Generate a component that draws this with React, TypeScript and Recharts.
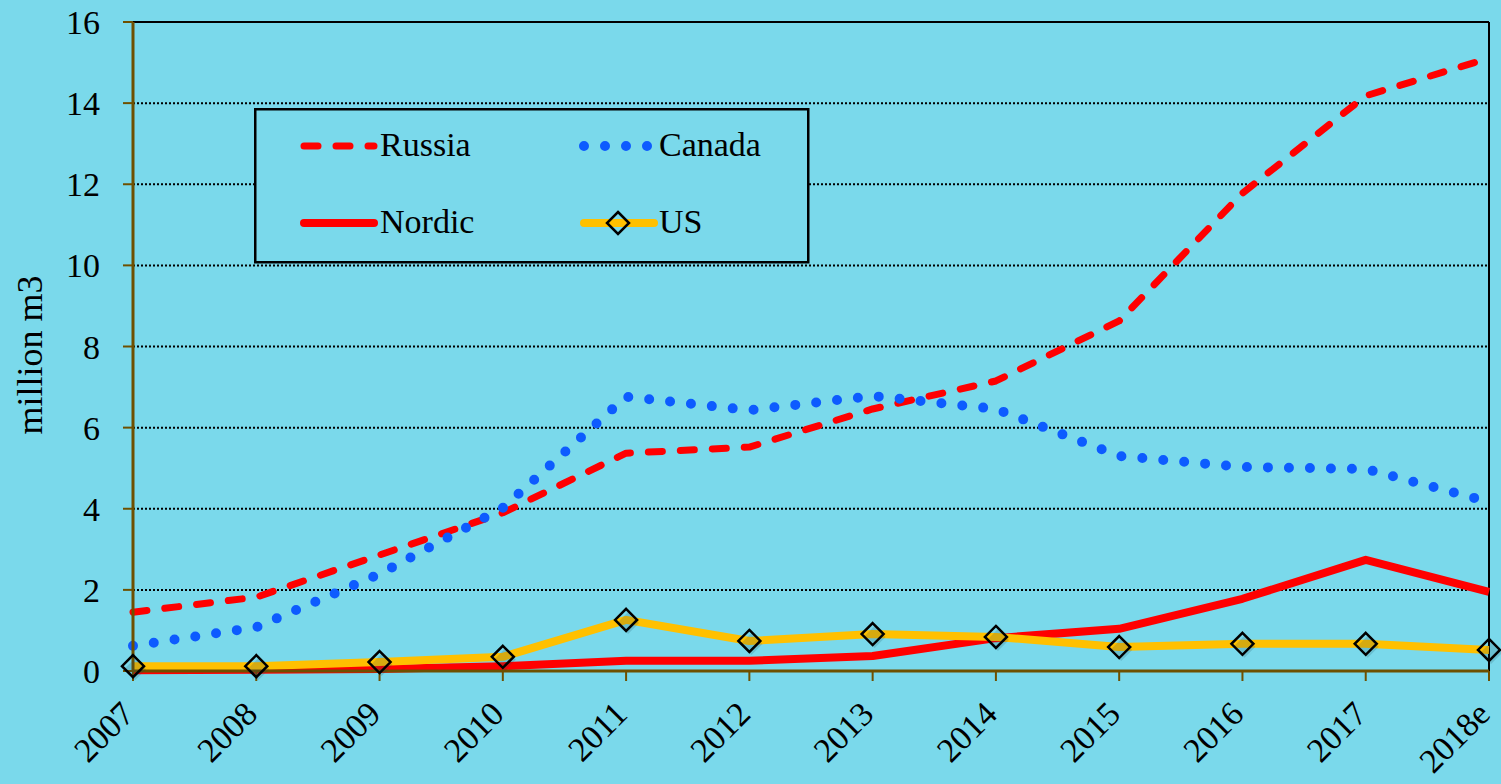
import React from 'react';
import { LineChart, Line, XAxis, YAxis, CartesianGrid, ReferenceLine, Label } from 'recharts';

const years = ['2007', '2008', '2009', '2010', '2011', '2012', '2013', '2014', '2015', '2016', '2017', '2018e'];
const russia = [1.45, 1.82, 2.86, 3.9, 5.37, 5.52, 6.46, 7.15, 8.63, 11.78, 14.18, 15.11];
const canada = [0.62, 1.08, 2.39, 4.02, 6.76, 6.43, 6.78, 6.46, 5.3, 5.03, 4.98, 4.17];
const nordic = [0.02, 0.03, 0.05, 0.12, 0.25, 0.25, 0.37, 0.81, 1.04, 1.78, 2.74, 1.95];
const us = [0.12, 0.12, 0.22, 0.35, 1.26, 0.74, 0.91, 0.84, 0.59, 0.67, 0.67, 0.52];
const yTicks = [0, 2, 4, 6, 8, 10, 12, 14, 16];

const data = years.map((year, i) => ({
  year,
  russia: russia[i],
  canada: canada[i],
  nordic: nordic[i],
  us: us[i],
}));

const FONT = 'Liberation Serif, Times New Roman, serif';
const BG = '#7AD9EB';
const AXIS = '#6E5000';
const RED = '#FF0000';
const BLUE = '#0D5BFF';
const YELLOW = '#FFC000';

const XTick = ({ x, y, payload }: any) => {
  const tx = x + 3;
  const ty = y + 35;
  return (
    <text x={tx} y={ty} transform={`rotate(-45 ${tx} ${ty})`} textAnchor="end" fontSize={34} fontFamily={FONT} fill="#000">
      {payload.value}
    </text>
  );
};

const Diamond = ({ cx, cy, s = 11 }: any) => (
  <g>
    <polygon
      points={`${cx + 2},${cy + 3 - s} ${cx + 2 + s},${cy + 3} ${cx + 2},${cy + 3 + s} ${cx + 2 - s},${cy + 3}`}
      fill="#1a4a5a"
      opacity={0.18}
    />
    <polygon
      points={`${cx},${cy - s} ${cx + s},${cy} ${cx},${cy + s} ${cx - s},${cy}`}
      fill="none"
      stroke="#000"
      strokeWidth={2.5}
    />
  </g>
);

// legend box drawn as an overlay, like the one in the source chart
const LegendBox = () => (
  <svg width={556} height={156} style={{ position: 'absolute', left: 254, top: 108 }}>
    <rect x={1.25} y={1.25} width={553} height={153} fill={BG} stroke="#000" strokeWidth={2.5} />
    <line x1={50} y1={38} x2={120} y2={38} stroke={RED} strokeWidth={7} strokeDasharray="14 18" strokeLinecap="round" />
    <text x={126} y={48} fontSize={34} fontFamily={FONT}>Russia</text>
    <line x1={330} y1={38} x2={400} y2={38} stroke={BLUE} strokeWidth={10} strokeDasharray="0 21" strokeLinecap="round" />
    <text x={405} y={48} fontSize={34} fontFamily={FONT}>Canada</text>
    <line x1={50} y1={115} x2={120} y2={115} stroke={RED} strokeWidth={8} strokeLinecap="round" />
    <text x={126} y={125} fontSize={34} fontFamily={FONT}>Nordic</text>
    <line x1={330} y1={115} x2={400} y2={115} stroke={YELLOW} strokeWidth={8} strokeLinecap="round" />
    <polygon points="364,104 375,115 364,126 353,115" fill="none" stroke="#000" strokeWidth={2.5} />
    <text x={405} y={125} fontSize={34} fontFamily={FONT}>US</text>
  </svg>
);

export default function App() {
  return (
    <div style={{ position: 'fixed', left: 0, top: 0, width: 1501, height: 784, background: BG }}>
      <LineChart width={1501} height={784} data={data} margin={{ top: 22, right: 12, left: 0, bottom: 0 }}>
        <CartesianGrid vertical={false} stroke="#000" strokeWidth={2} strokeDasharray="2 2" />
        <XAxis
          dataKey="year"
          height={113}
          interval={0}
          tick={<XTick />}
          tickSize={10}
          tickMargin={0}
          axisLine={{ stroke: AXIS, strokeWidth: 3 }}
          tickLine={{ stroke: AXIS, strokeWidth: 2 }}
        />
        <YAxis
          width={133}
          domain={[0, 16]}
          ticks={yTicks}
          interval={0}
          tickSize={10}
          tickMargin={23}
          tick={{ fontSize: 34, fontFamily: FONT, fill: '#000' }}
          axisLine={{ stroke: AXIS, strokeWidth: 3 }}
          tickLine={{ stroke: AXIS, strokeWidth: 2 }}
        >
          <Label
            content={() => (
              <text transform="translate(42,355) rotate(-90)" textAnchor="middle" fontSize={36} fontFamily={FONT} fill="#000">
                million m3
              </text>
            )}
          />
        </YAxis>
        <ReferenceLine y={16} stroke="#000" strokeWidth={2} />
        <ReferenceLine x="2018e" stroke="#000" strokeWidth={2} />
        <Line type="linear" dataKey="russia" stroke={RED} strokeWidth={7} strokeDasharray="14 18" strokeLinecap="round" strokeLinejoin="round" dot={false} isAnimationActive={false} />
        <Line type="linear" dataKey="canada" stroke={BLUE} strokeWidth={10} strokeDasharray="0 21" strokeLinecap="round" dot={false} isAnimationActive={false} />
        <Line type="linear" dataKey="nordic" stroke={RED} strokeWidth={8} strokeLinejoin="round" dot={false} isAnimationActive={false} />
        <Line type="linear" dataKey="us" stroke={YELLOW} strokeWidth={8} strokeLinejoin="round" dot={<Diamond />} isAnimationActive={false} />
      </LineChart>
      <LegendBox />
    </div>
  );
}
